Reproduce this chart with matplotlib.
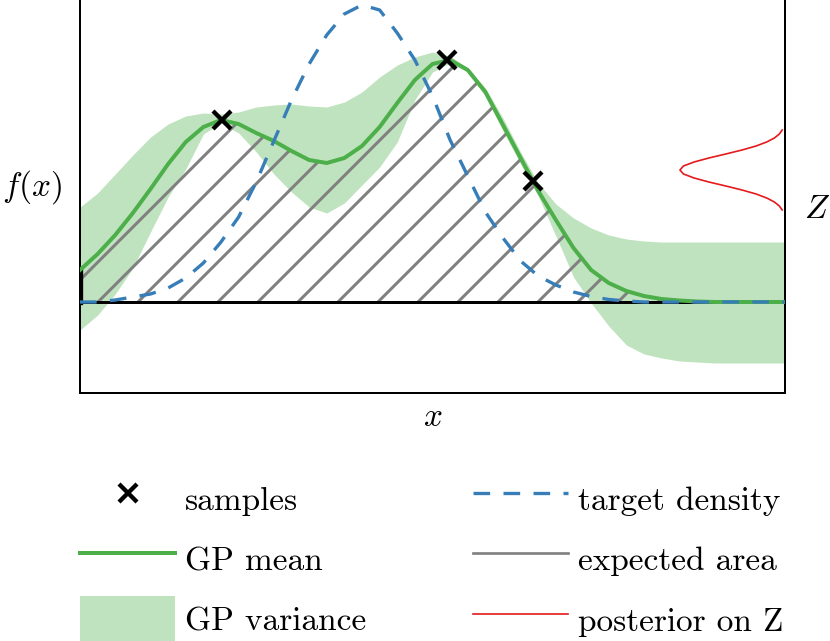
import numpy as np
import matplotlib
matplotlib.use('Agg')
import matplotlib.pyplot as plt
from matplotlib.lines import Line2D
from matplotlib.patches import Patch

plt.rcParams['font.family'] = 'serif'
plt.rcParams['font.serif'] = ['cmr10']
plt.rcParams['mathtext.fontset'] = 'cm'
plt.rcParams['axes.unicode_minus'] = False
plt.rcParams['font.size'] = 10
plt.rcParams['hatch.linewidth'] = 0.9

# --- values --- #
x_grid = np.arange(41) * 0.25

gp_mean = [0.32, 0.48, 0.67, 0.89, 1.13, 1.38, 1.60, 1.75, 1.82, 1.78,
           1.69, 1.61, 1.51, 1.42, 1.39, 1.44, 1.56, 1.75, 1.99, 2.22,
           2.38, 2.42, 2.32, 2.10, 1.77, 1.44, 1.11, 0.82, 0.54, 0.32,
           0.19, 0.11, 0.06, 0.03, 0.015, 0.005, 0.0, 0.0, 0.0, 0.0, 0.0]

gp_upper = [0.95, 1.09, 1.28, 1.47, 1.65, 1.78, 1.86, 1.89, 1.88, 1.90,
            1.95, 1.97, 1.98, 1.96, 1.95, 2.00, 2.10, 2.25, 2.37, 2.45,
            2.50, 2.46, 2.34, 2.14, 1.84, 1.50, 1.19, 0.98, 0.84, 0.74,
            0.67, 0.63, 0.61, 0.60, 0.60, 0.60, 0.60, 0.60, 0.60, 0.60, 0.60]

gp_lower = [-0.28, -0.13, 0.08, 0.34, 0.70, 1.05, 1.33, 1.68, 1.79, 1.69,
            1.50, 1.28, 1.10, 0.95, 0.89, 0.99, 1.17, 1.35, 1.60, 2.02,
            2.30, 2.39, 2.30, 2.06, 1.71, 1.38, 1.06, 0.66, 0.25, -0.01,
            -0.24, -0.43, -0.52, -0.56, -0.59, -0.60, -0.61, -0.61, -0.61, -0.61, -0.61]

target = [0.00, 0.00, 0.02, 0.05, 0.08, 0.14, 0.24, 0.39, 0.60, 0.85,
          1.20, 1.61, 2.02, 2.38, 2.67, 2.88, 2.97, 2.92, 2.69, 2.42,
          2.06, 1.62, 1.26, 0.90, 0.64, 0.41, 0.26, 0.17, 0.10, 0.055,
          0.025, 0.01, 0.0, 0.0, 0.0, 0.0, 0.0, 0.0, 0.0, 0.0, 0.0]

sample_x = [2.01, 5.21, 6.43]
sample_y = [1.82, 2.42, 1.21]

# posterior on Z, drawn sideways against the right spine
z_vals = [1.72, 1.68, 1.64, 1.60, 1.56, 1.52, 1.48, 1.44, 1.40, 1.36, 1.32,
          1.28, 1.24, 1.20, 1.16, 1.12, 1.08, 1.04, 1.00, 0.96, 0.92]
z_dens = [0.04, 0.08, 0.15, 0.26, 0.41, 0.61, 0.84, 1.08, 1.29, 1.44, 1.49,
          1.44, 1.29, 1.08, 0.84, 0.61, 0.41, 0.26, 0.15, 0.08, 0.04]

green = '#4daf4a'
blue = '#377eb8'
red = '#e41a1c'

fig = plt.figure(figsize=(830 / 240, 641 / 240), dpi=240)
ax = fig.add_axes([80 / 830, 1 - 393 / 641, 705 / 830, 393 / 641])

# GP variance band
ax.fill_between(x_grid, gp_lower, gp_upper, color=green, alpha=0.35, lw=0, zorder=1)
# expected area (hatched)
ax.fill_between(x_grid, 0, gp_mean, facecolor='none', edgecolor='gray',
                hatch='//', lw=0, zorder=2)
ax.plot([0, 10], [0, 0], c='k', lw=0.9, zorder=3)
ax.plot([0, 0], [0, gp_mean[0]], c='k', lw=1.6, zorder=3)
# GP mean
ax.plot(x_grid, gp_mean, c=green, lw=1.2, zorder=4)
# target density
ax.plot(x_grid, target, c=blue, lw=1.0, dashes=(5, 4), zorder=5)
# samples
ax.plot(sample_x, sample_y, ls='none', marker='x', ms=5.5, mew=1.3, c='k', zorder=6)
# posterior on Z
ax.plot(10 - np.array(z_dens), z_vals, c=red, lw=0.5, zorder=6)

ax.set_xlim(0, 10)
ax.set_ylim(-0.91, 3.02)
ax.set_xticks([])
ax.set_yticks([])
ax.spines['top'].set_visible(False)
for s in ['left', 'right', 'bottom']:
    ax.spines[s].set_linewidth(0.6)

ax.set_xlabel('$x$', labelpad=3)
fig.text(32 / 830, 1 - 187 / 641, '$f(x)$', ha='center', va='center')
fig.text(817 / 830, 1 - 209 / 641, '$Z$', ha='center', va='center')

handles = [
    Line2D([], [], ls='none', marker='x', ms=5.5, mew=1.3, c='k'),
    Line2D([], [], c=green, lw=1.2),
    Patch(facecolor=green, alpha=0.35, lw=0),
    Line2D([], [], c=blue, lw=1.0, dashes=(5, 4)),
    Line2D([], [], c='gray', lw=0.8),
    Line2D([], [], c=red, lw=0.5),
]
labels = ['samples', 'GP mean', 'GP variance',
          'target density', 'expected area', 'posterior on Z']
fig.legend(handles, labels, ncol=2, loc='upper left',
           bbox_to_anchor=(67 / 830, 1 - 462 / 641), borderaxespad=0,
           frameon=False, handlelength=2.85, handleheight=1.8,
           handletextpad=0.3, labelspacing=0.4, columnspacing=3.2)

fig.savefig('out.png', dpi=240)
